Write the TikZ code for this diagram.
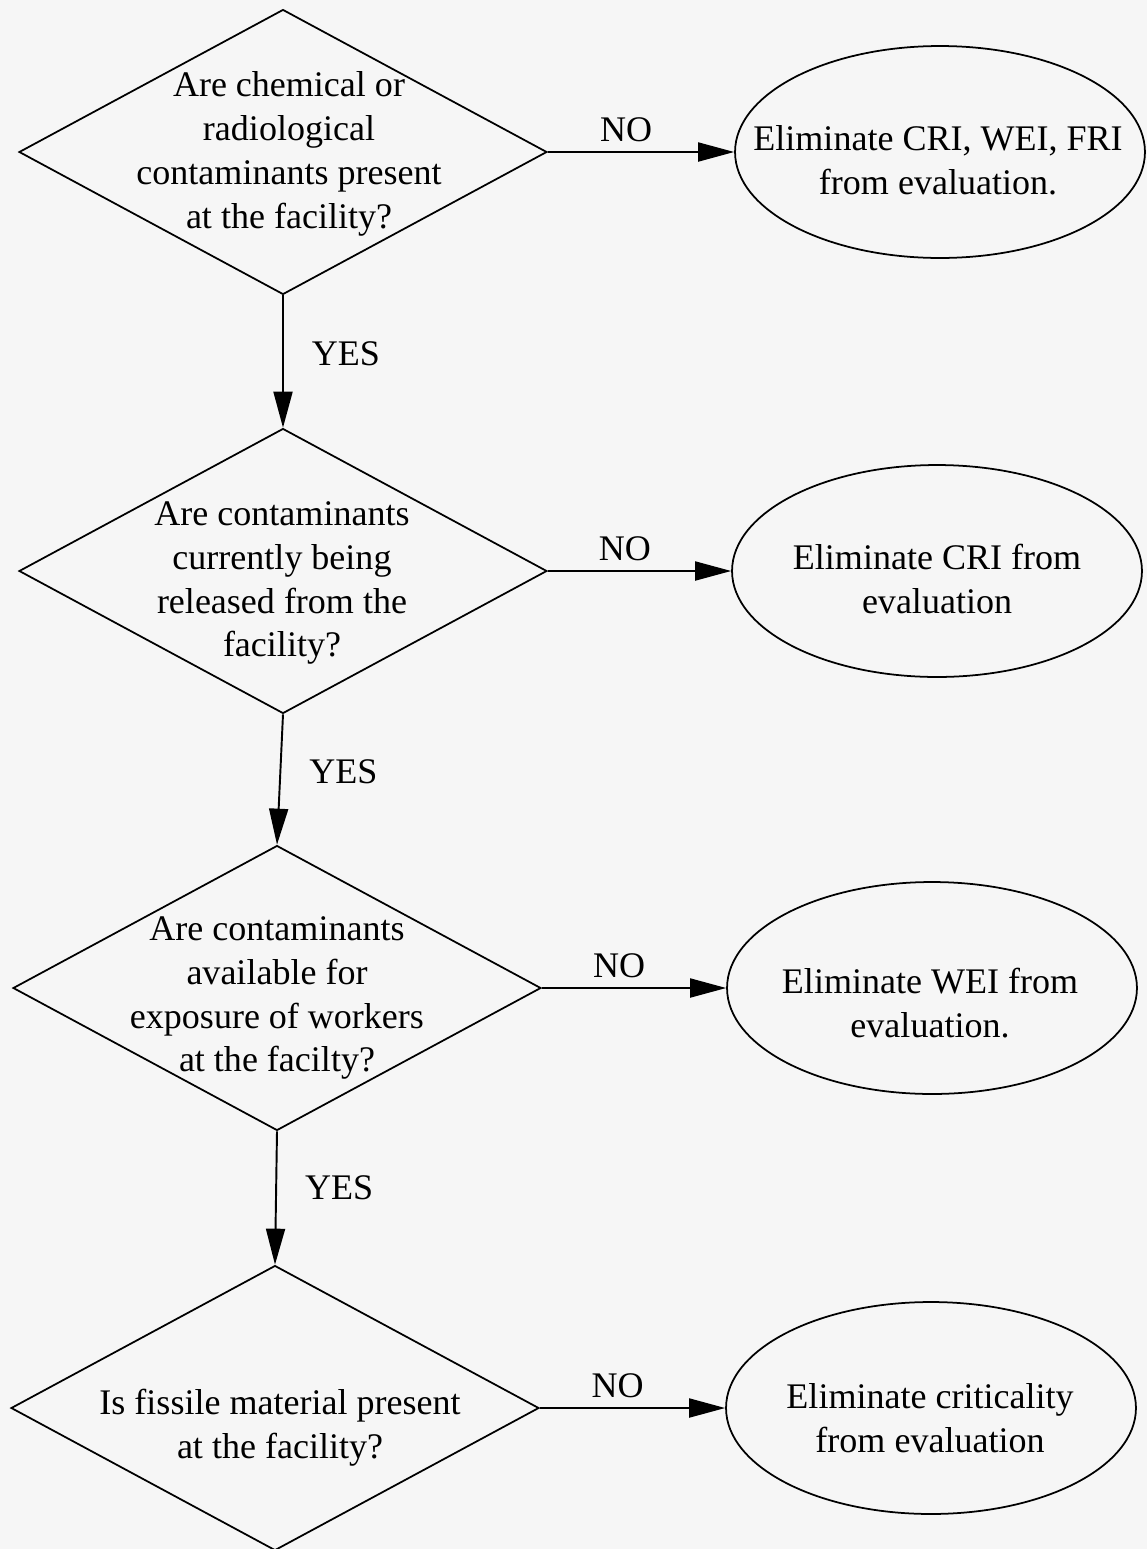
\documentclass[tikz,border=0pt]{standalone}
\usepackage{fontspec}
\setmainfont{Liberation Serif}
\usepackage{tikz}
\usetikzlibrary{positioning, arrows.meta, shapes.geometric}

\definecolor{paper}{HTML}{F6F6F6}

\begin{document}
\begin{tikzpicture}[
			x=0.02cm, y=-0.02cm,
			decision/.style={diamond, draw, line width=1pt, minimum width=10.56cm, minimum height=5.7cm, inner sep=0pt},
			outcome/.style={ellipse, draw, line width=1pt, minimum width=8.2cm, minimum height=4.24cm, inner sep=0pt},
			txt/.style={align=center, inner sep=0pt, font=\fontsize{20.5}{25}\selectfont},
			answer/.style={inner sep=0pt, font=\fontsize{20.5}{25}\selectfont},
			arrow/.style={-{Triangle[length=0.72cm, width=0.38cm]}, line width=1.1pt}
			]
			% Page
			\useasboundingbox (0,0) rectangle (1147,1549);
			\fill [paper] (0,0) rectangle (1147,1549);
			
			% Questions
			\node (q1) [decision] at (283,152) {};
			\node (q2) [decision] at (283,571) {};
			\node (q3) [decision] at (277,988) {};
			\node (q4) [decision] at (275,1408) {};
			\node (q1t) [txt] at (289,154) {Are chemical or\\radiological\\contaminants present\\at the facility?};
			\node (q2t) [txt] at (282,583) {Are contaminants\\currently being\\released from the\\facility?};
			\node (q3t) [txt] at (277,998) {Are contaminants\\available for\\exposure of workers\\at the facilty?};
			\node (q4t) [txt] at (280,1428) {Is fissile material present\\at the facility?};
			
			% Outcomes
			\node (e1) [outcome] at (940,152) {};
			\node (e2) [outcome] at (937,571) {};
			\node (e3) [outcome] at (932,988) {};
			\node (e4) [outcome] at (931,1408) {};
			\node (e1t) [txt] at (938,160) {Eliminate CRI, WEI, FRI\\from evaluation.};
			\node (e2t) [txt] at (937,579) {Eliminate CRI from\\evaluation};
			\node (e3t) [txt] at (930,1003) {Eliminate WEI from\\evaluation.};
			\node (e4t) [txt] at (930,1418) {Eliminate criticality\\from evaluation};
			
			% Arrows
			\draw [arrow] (q1.east) -- (e1.west) node[answer, pos=0.42, above=0.18cm] {NO};
			\draw [arrow] (q2.east) -- (e2.west) node[answer, pos=0.42, above=0.18cm] {NO};
			\draw [arrow] (q3.east) -- (e3.west) node[answer, pos=0.42, above=0.18cm] {NO};
			\draw [arrow] (q4.east) -- (e4.west) node[answer, pos=0.42, above=0.18cm] {NO};
			
			\draw [arrow] (q1.south) -- (q2.north) node[answer, pos=0.44, right=0.56cm] {YES};
			\draw [arrow] (q2.south) -- (q3.north) node[answer, pos=0.44, right=0.56cm] {YES};
			\draw [arrow] (q3.south) -- (q4.north) node[answer, pos=0.42, right=0.56cm] {YES};
		\end{tikzpicture}
\end{document}
